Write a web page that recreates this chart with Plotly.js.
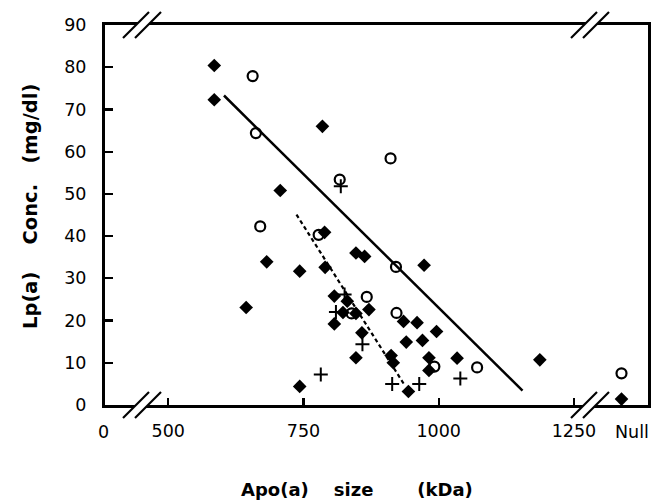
<!DOCTYPE html>
<html>
<head>
<meta charset="utf-8">
<script src="https://cdn.plot.ly/plotly-3.0.1.min.js"></script>
<style>html,body{margin:0;padding:0;background:#fff;}#chart{width:661px;height:503px;}</style>
</head>
<body>
<div id="chart"></div>
<script>
// Position used for the "Null" category on the broken x axis (kDa scale)
const NULL_X = 1338;

// Filled diamonds
const diamondX = [585, 585, 785, 707, 789, 682, 743, 644, 743, 790, 847, 863, 807, 831, 823, 847, 871, 807, 858, 847, 912, 916, 944, 973, 935, 960, 996, 940, 970, 982, 1034, 982, 1187, NULL_X];
const diamondY = [80.4, 72.3, 66.0, 50.8, 40.9, 33.9, 31.7, 23.1, 4.4, 32.6, 36.0, 35.2, 25.8, 24.6, 21.9, 21.7, 22.6, 19.2, 17.1, 11.2, 11.7, 10.0, 3.2, 33.1, 19.8, 19.5, 17.4, 14.9, 15.3, 11.2, 11.1, 8.2, 10.7, 1.4];

// Open circles
const circleX = [656, 662, 670, 778, 817, 911, 921, 867, 839, 922, 992, 1071, NULL_X];
const circleY = [77.9, 64.4, 42.3, 40.3, 53.4, 58.4, 32.7, 25.6, 21.7, 21.8, 9.1, 8.9, 7.5];

// Plus signs
const plusX = [819, 826, 810, 859, 782, 914, 964, 1040];
const plusY = [51.8, 26.2, 22.0, 14.4, 7.2, 5.0, 5.0, 6.3];

// Regression lines
const solidLineX = [603, 1155];
const solidLineY = [73.3, 3.4];
const dashLineX = [737, 938];
const dashLineY = [45.1, 4.5];

// Axis ticks
const xTickVals = [500, 750, 1000, 1250];
const xTickText = ['500', '750', '1000', '1250'];
const yTickVals = [0, 10, 20, 30, 40, 50, 60, 70, 80, 90];

const xTitle = 'Apo(a)\u00a0\u00a0\u00a0\u00a0size\u00a0\u00a0\u00a0\u00a0\u00a0\u00a0\u00a0(kDa)';
const yTitle = 'Lp(a)\u00a0\u00a0\u00a0\u00a0Conc.\u00a0\u00a0\u00a0(mg/dl)';

// geometry helpers (layout decoration only)
const M = {l: 105, r: 13, t: 25, b: 98};
const W = 661, H = 503;
const PW = W - M.l - M.r, PH = H - M.t - M.b;
const px = x => (x - M.l) / PW;
const py = y => (M.t + PH - y) / PH;

function breakShapes(c1, c2, cy) {
  const h = 13, g = 4;
  const shapes = [];
  shapes.push({type: 'path', xref: 'paper', yref: 'paper', layer: 'above',
    path: `M${px(c1 + g)},${py(cy - g)} L${px(c2 + g)},${py(cy - g)} L${px(c2 - g)},${py(cy + g)} L${px(c1 - g)},${py(cy + g)} Z`,
    fillcolor: '#fff', line: {width: 0}});
  [c1, c2].forEach(c => shapes.push({type: 'line', xref: 'paper', yref: 'paper', layer: 'above',
    x0: px(c - h), y0: py(cy + h), x1: px(c + h), y1: py(cy - h), line: {color: '#000', width: 2.2}}));
  return shapes;
}
const bottomY = M.t + PH, topY = M.t;
const shapes = [].concat(
  breakShapes(136, 148, topY), breakShapes(136, 148, bottomY),
  breakShapes(584, 596, topY), breakShapes(584, 596, bottomY)
);

const traces = [
  {x: solidLineX, y: solidLineY, mode: 'lines', line: {color: '#000', width: 2.5}, hoverinfo: 'skip'},
  {x: dashLineX, y: dashLineY, mode: 'lines', line: {color: '#000', width: 2.2, dash: '4px,3px'}, hoverinfo: 'skip'},
  {x: diamondX, y: diamondY, mode: 'markers', marker: {symbol: 'diamond', size: 10.5, color: '#000', line: {width: 0}}, cliponaxis: false},
  {x: circleX, y: circleY, mode: 'markers', marker: {symbol: 'circle-open', size: 10, color: '#000', line: {width: 2.2, color: '#000'}}, cliponaxis: false},
  {x: plusX, y: plusY, mode: 'markers', marker: {symbol: 'cross-thin-open', size: 10, color: '#000', line: {width: 2, color: '#000'}}, cliponaxis: false}
];

const tickFont = {family: 'DejaVu Sans, sans-serif', size: 17.5, color: '#000'};
const xTitleFont = {family: 'DejaVu Sans, sans-serif', size: 18, color: '#000', weight: 'bold'};
const yTitleFont = {family: 'DejaVu Sans, sans-serif', size: 19.5, color: '#000', weight: 'bold'};

const layout = {
  width: W, height: H, margin: M,
  paper_bgcolor: '#fff', plot_bgcolor: '#fff', showlegend: false,
  xaxis: {range: [383, 1387], tickvals: xTickVals, ticktext: xTickText, ticks: 'inside', ticklen: 7, tickwidth: 2.2, tickcolor: '#000',
    showline: true, linewidth: 3, linecolor: '#000', mirror: true, showgrid: false, zeroline: false, tickfont: tickFont, ticklabelstandoff: 8},
  yaxis: {range: [0, 90], tickvals: yTickVals, ticks: 'inside', ticklen: 8, tickwidth: 2.2, tickcolor: '#000',
    showline: true, linewidth: 3, linecolor: '#000', mirror: true, showgrid: false, zeroline: false, tickfont: tickFont, ticklabelstandoff: 12},
  shapes: shapes,
  annotations: [
    {text: '0', xref: 'paper', yref: 'paper', x: px(103.5), y: py(432), xanchor: 'center', yanchor: 'middle', showarrow: false, font: tickFont},
    {text: 'Null', xref: 'paper', yref: 'paper', x: px(632), y: py(432), xanchor: 'center', yanchor: 'middle', showarrow: false, font: tickFont},
    {text: '<b>' + xTitle + '</b>', xref: 'paper', yref: 'paper', x: px(357), y: py(489), xanchor: 'center', yanchor: 'middle', showarrow: false, font: xTitleFont},
    {text: '<b>' + yTitle + '</b>', xref: 'paper', yref: 'paper', x: px(30), y: py(207), xanchor: 'center', yanchor: 'middle', textangle: -90, showarrow: false, font: yTitleFont}
  ]
};

Plotly.newPlot('chart', traces, layout, {displayModeBar: false, staticPlot: true});
</script>
</body>
</html>
